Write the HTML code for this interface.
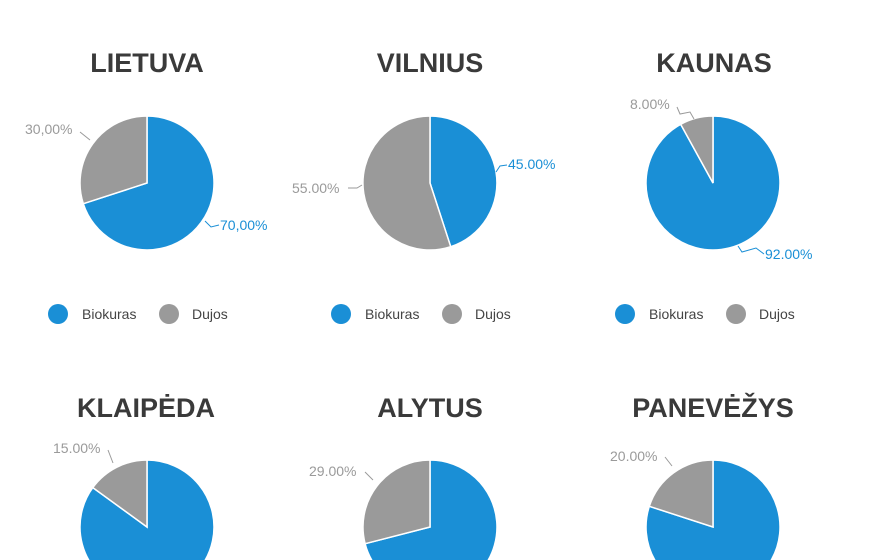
<!DOCTYPE html>
<html><head><meta charset="utf-8"><style>
html,body{margin:0;padding:0;background:#fff;width:870px;height:560px;overflow:hidden}
svg{display:block;overflow:hidden}
.t{font-family:"Liberation Sans",sans-serif;font-weight:bold;font-size:27px;fill:#3a3a3a;text-anchor:middle}
.l{font-family:"Liberation Sans",sans-serif;font-size:14px}
.g{fill:#9a9a9a}.b{fill:#1a8fd6}
.lg{font-family:"Liberation Sans",sans-serif;font-size:14px;fill:#444}
</style></head><body>
<svg width="870" height="560" viewBox="0 0 870 560" xmlns="http://www.w3.org/2000/svg">
<g stroke="#fff" stroke-width="1.5">
<path d="M147,183 L147,116 A67,67 0 1 1 83.3,203.7 Z" fill="#1a8fd6"/>
<path d="M147,183 L83.3,203.7 A67,67 0 0 1 147,116 Z" fill="#9a9a9a"/>
<path d="M430,183 L430,116 A67,67 0 0 1 450.7,246.7 Z" fill="#1a8fd6"/>
<path d="M430,183 L450.7,246.7 A67,67 0 1 1 430,116 Z" fill="#9a9a9a"/>
<path d="M713,183 L713,116 A67,67 0 1 1 680.7,124.3 Z" fill="#1a8fd6"/>
<path d="M713,183 L680.7,124.3 A67,67 0 0 1 713,116 Z" fill="#9a9a9a"/>
<path d="M147,527 L147,460 A67,67 0 1 1 92.8,487.6 Z" fill="#1a8fd6"/>
<path d="M147,527 L92.8,487.6 A67,67 0 0 1 147,460 Z" fill="#9a9a9a"/>
<path d="M430,527 L430,460 A67,67 0 1 1 365.1,543.7 Z" fill="#1a8fd6"/>
<path d="M430,527 L365.1,543.7 A67,67 0 0 1 430,460 Z" fill="#9a9a9a"/>
<path d="M713,527 L713,460 A67,67 0 1 1 649.3,506.3 Z" fill="#1a8fd6"/>
<path d="M713,527 L649.3,506.3 A67,67 0 0 1 713,460 Z" fill="#9a9a9a"/>
</g>
<g fill="none" stroke-width="1">
<polyline points="80,132 90,140" stroke="#9a9a9a"/>
<polyline points="219,225 211,227 205,221" stroke="#1a8fd6"/>
<polyline points="348,188 357,188 362,185" stroke="#9a9a9a"/>
<polyline points="507,165 500,166 496,172" stroke="#1a8fd6"/>
<polyline points="677,107 680,114 690,112 694,119" stroke="#9a9a9a"/>
<polyline points="764,254 756,248 742,252 738,246" stroke="#1a8fd6"/>
<polyline points="108,450 113,463" stroke="#9a9a9a"/>
<polyline points="365,472 373,480" stroke="#9a9a9a"/>
<polyline points="665,457 672,466" stroke="#9a9a9a"/>
</g>
<text class="t" x="147" y="72">LIETUVA</text>
<text class="t" x="430" y="72">VILNIUS</text>
<text class="t" x="714" y="72">KAUNAS</text>
<text class="t" x="146" y="417">KLAIPĖDA</text>
<text class="t" x="430" y="417">ALYTUS</text>
<text class="t" x="713" y="417">PANEVĖŽYS</text>
<text class="l g" x="25" y="134">30,00%</text>
<text class="l b" x="220" y="230">70,00%</text>
<text class="l g" x="292" y="193">55.00%</text>
<text class="l b" x="508" y="169">45.00%</text>
<text class="l g" x="630" y="109">8.00%</text>
<text class="l b" x="765" y="259">92.00%</text>
<text class="l g" x="53" y="453">15.00%</text>
<text class="l g" x="309" y="476">29.00%</text>
<text class="l g" x="610" y="461">20.00%</text>
<g>
<circle cx="58" cy="314" r="10" fill="#1a8fd6"/><text class="lg" x="82" y="319">Biokuras</text>
<circle cx="169" cy="314" r="10" fill="#9a9a9a"/><text class="lg" x="192" y="319">Dujos</text>
<circle cx="341" cy="314" r="10" fill="#1a8fd6"/><text class="lg" x="365" y="319">Biokuras</text>
<circle cx="452" cy="314" r="10" fill="#9a9a9a"/><text class="lg" x="475" y="319">Dujos</text>
<circle cx="625" cy="314" r="10" fill="#1a8fd6"/><text class="lg" x="649" y="319">Biokuras</text>
<circle cx="736" cy="314" r="10" fill="#9a9a9a"/><text class="lg" x="759" y="319">Dujos</text>
</g>
</svg>
</body></html>
